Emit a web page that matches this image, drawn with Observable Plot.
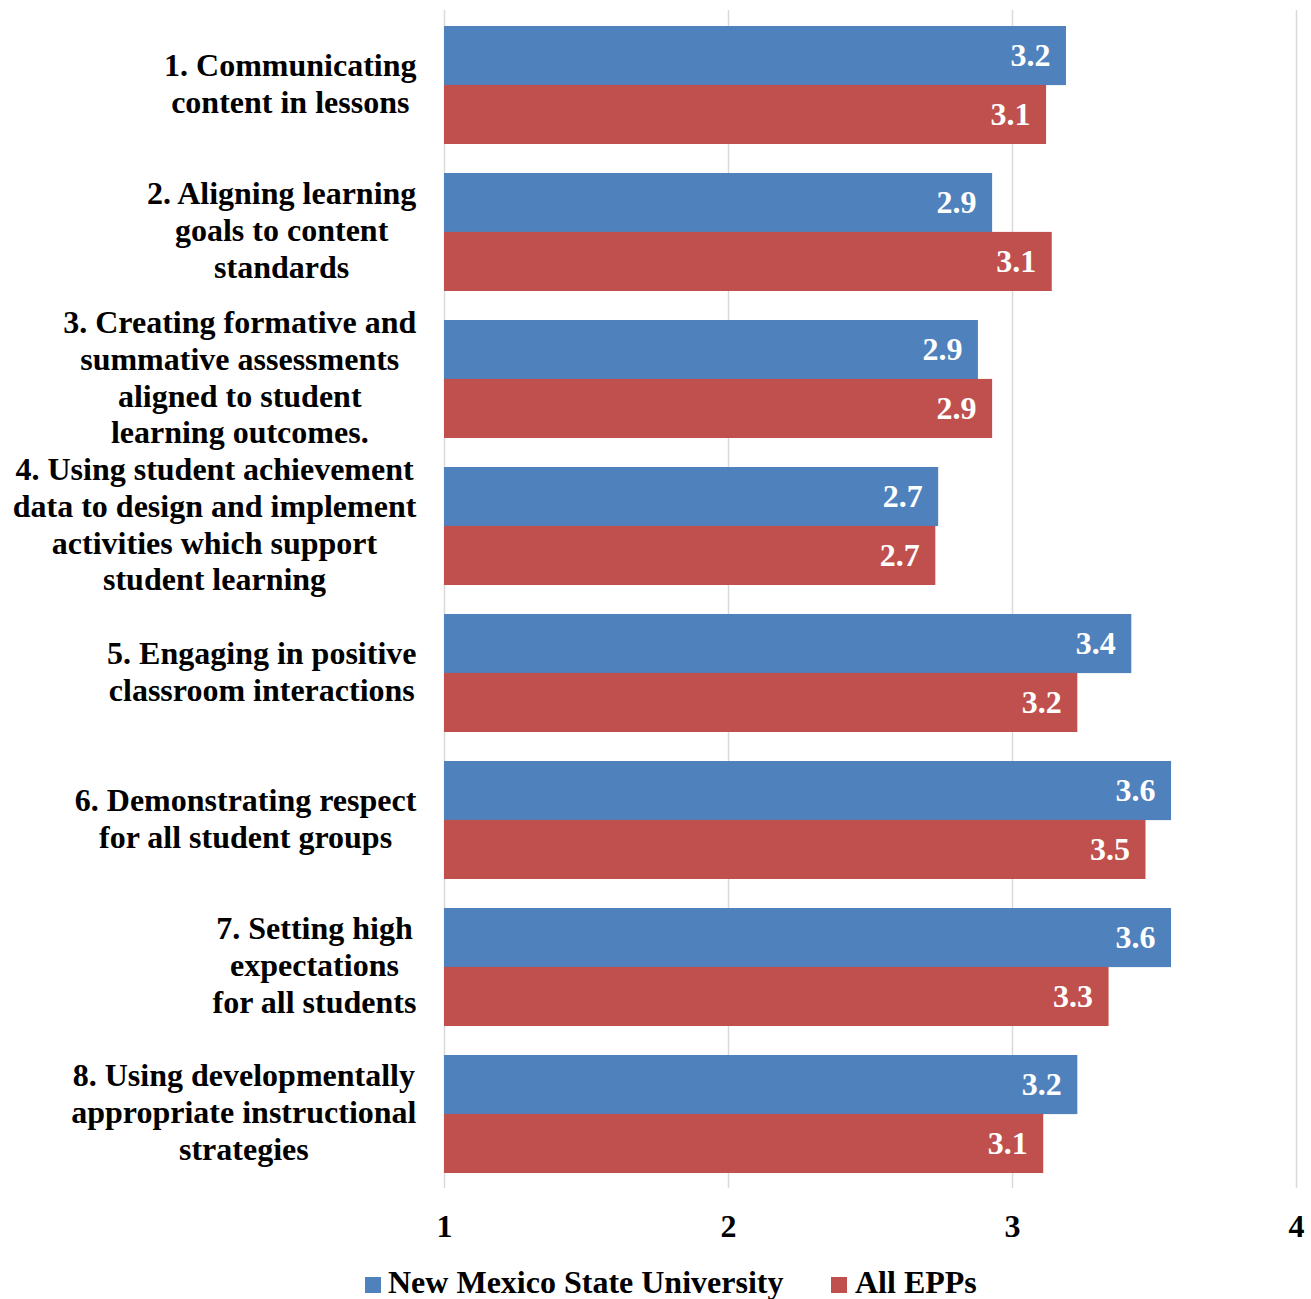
<!DOCTYPE html>
<html>
<head>
<meta charset="utf-8">
<script src="https://cdn.jsdelivr.net/npm/d3@7"></script>
<script src="https://cdn.jsdelivr.net/npm/@observablehq/plot@0.6"></script>
<style>
  body { margin: 0; background: #fff; }
  #wrap { position: relative; width: 1311px; height: 1299px; overflow: hidden; font-family: "Liberation Serif", "Times New Roman", serif; }
  .sw { position: absolute; width: 16px; height: 16px; }
  .lt { position: absolute; font-size: 32px; line-height: 32px; font-weight: bold; color: #000; white-space: nowrap; }
</style>
</head>
<body>
<div id="wrap"></div>
<script>
// ---- data ----
const categories = [
  "1. Communicating\ncontent in lessons",
  "2. Aligning learning\ngoals to content\nstandards",
  "3. Creating formative and\nsummative assessments\naligned to student\nlearning outcomes.",
  "4. Using student achievement\ndata to design and implement\nactivities which support\nstudent learning",
  "5. Engaging in positive\nclassroom interactions",
  "6. Demonstrating respect\nfor all student groups",
  "7. Setting high\nexpectations\nfor all students",
  "8. Using developmentally\nappropriate instructional\nstrategies"
];
const seriesNames = ["New Mexico State University", "All EPPs"];
const nmsuValues = [3.19, 2.93, 2.88, 2.74, 3.42, 3.56, 3.56, 3.23];
const eppValues  = [3.12, 3.14, 2.93, 2.73, 3.23, 3.47, 3.34, 3.11];
const xTicks = [1, 2, 3, 4];
const colors = ["#4F81BD", "#C0504D"];

// ---- layout ----
const W = 1311, H = 1250, mTop = 10, mBottom = 62;
const innerH = H - mTop - mBottom;
const pIn = 0.2, pOut = 0.1;
const step = innerH / (categories.length - pIn + 2 * pOut);
const bw = step * (1 - pIn);

const nmsu = categories.map((c, i) => ({cat: c, value: nmsuValues[i], series: seriesNames[0]}));
const epp  = categories.map((c, i) => ({cat: c, value: eppValues[i],  series: seriesNames[1]}));
const fmt = d3.format(".1f");

const chart = Plot.plot({
  width: W,
  height: H,
  marginLeft: 444,
  marginRight: 15,
  marginTop: mTop,
  marginBottom: mBottom,
  style: {fontFamily: "'Liberation Serif', 'Times New Roman', serif", fontSize: "32px", fontWeight: "bold", color: "#000", background: "#fff"},
  x: {domain: [1, 4], label: null},
  y: {domain: categories, paddingInner: pIn, paddingOuter: pOut, label: null},
  color: {domain: seriesNames, range: colors},
  marks: [
    Plot.ruleX(xTicks, {stroke: "#D9D9D9", strokeWidth: 1.5}),
    Plot.barX(nmsu, {y: "cat", x1: 1, x2: "value", fill: "series", insetBottom: bw / 2}),
    Plot.barX(epp,  {y: "cat", x1: 1, x2: "value", fill: "series", insetTop: bw / 2}),
    Plot.text(nmsu, {y: "cat", x: "value", text: d => fmt(d.value), dy: -bw / 4, dx: -16, textAnchor: "end", fill: "white", fontSize: 32, fontWeight: "bold"}),
    Plot.text(epp,  {y: "cat", x: "value", text: d => fmt(d.value), dy: bw / 4, dx: -16, textAnchor: "end", fill: "white", fontSize: 32, fontWeight: "bold"}),
    Plot.axisX({ticks: xTicks, tickSize: 0, tickPadding: 26, tickFormat: d => String(d), fontSize: 32, fontWeight: "bold", label: null}),
    Plot.axisY({tickSize: 0, tickPadding: 28, fontSize: 32, fontWeight: "bold", lineHeight: 1.15, textAnchor: "end", dy: -3, label: null})
  ]
});

const wrap = document.getElementById("wrap");
wrap.appendChild(chart);

// center each multi-line category label within its block, keeping the right edge fixed
chart.querySelectorAll('g[aria-label="y-axis tick label"] text').forEach(t => {
  const w = t.getBBox().width;
  t.setAttribute("text-anchor", "middle");
  const tr = t.getAttribute("transform") || "";
  t.setAttribute("transform", tr + ` translate(${-w / 2},0)`);
});

// legend below the chart
const legendItems = [
  {name: seriesNames[0], color: colors[0], sx: 365, tx: 388},
  {name: seriesNames[1], color: colors[1], sx: 831, tx: 855}
];
legendItems.forEach(it => {
  const s = document.createElement("div");
  s.className = "sw";
  s.style.left = it.sx + "px";
  s.style.top = "1277px";
  s.style.background = it.color;
  wrap.appendChild(s);
  const t = document.createElement("div");
  t.className = "lt";
  t.style.left = it.tx + "px";
  t.style.top = "1266px";
  t.textContent = it.name;
  wrap.appendChild(t);
});
</script>
</body>
</html>
